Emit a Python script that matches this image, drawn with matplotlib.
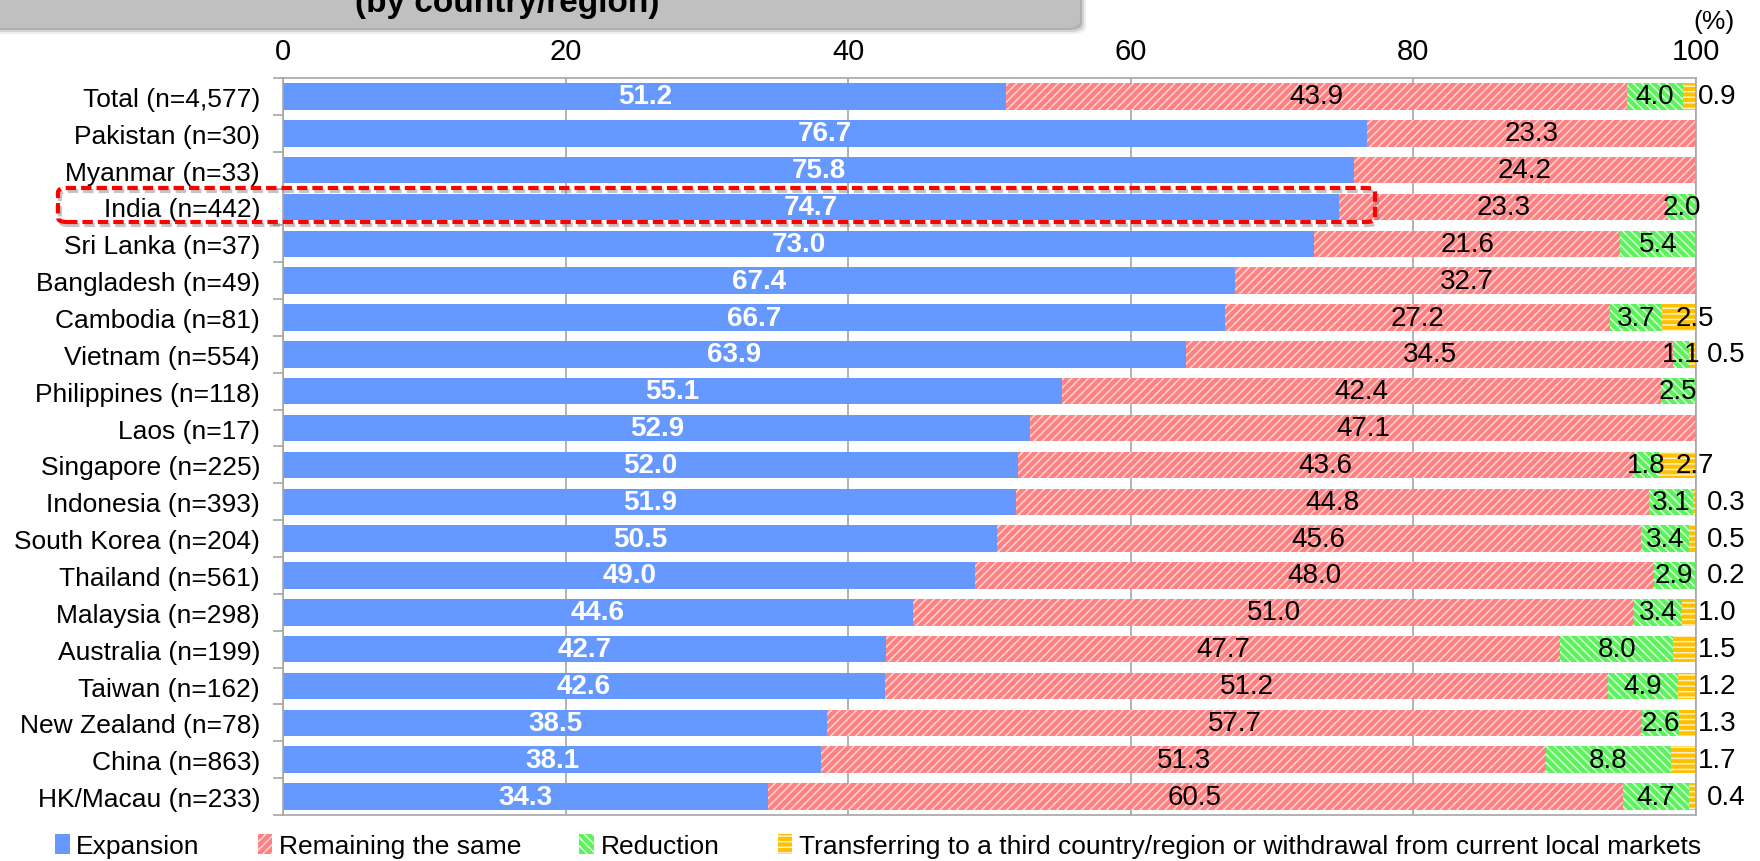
import numpy as np
import matplotlib
matplotlib.use('Agg')
import matplotlib.pyplot as plt
from matplotlib.patches import Patch, FancyBboxPatch

plt.rcParams['font.family'] = ['Liberation Sans', 'DejaVu Sans']
plt.rcParams['hatch.linewidth'] = 1.1

W, H = 1760, 862

CATEGORIES = [
    'Total (n=4,577)', 'Pakistan (n=30)', 'Myanmar (n=33)', 'India (n=442)',
    'Sri Lanka (n=37)', 'Bangladesh (n=49)', 'Cambodia (n=81)', 'Vietnam (n=554)',
    'Philippines (n=118)', 'Laos (n=17)', 'Singapore (n=225)', 'Indonesia (n=393)',
    'South Korea (n=204)', 'Thailand (n=561)', 'Malaysia (n=298)', 'Australia (n=199)',
    'Taiwan (n=162)', 'New Zealand (n=78)', 'China (n=863)', 'HK/Macau (n=233)',
]
EXPANSION = [51.2, 76.7, 75.8, 74.7, 73.0, 67.4, 66.7, 63.9, 55.1, 52.9,
             52.0, 51.9, 50.5, 49.0, 44.6, 42.7, 42.6, 38.5, 38.1, 34.3]
SAME = [43.9, 23.3, 24.2, 23.3, 21.6, 32.7, 27.2, 34.5, 42.4, 47.1,
        43.6, 44.8, 45.6, 48.0, 51.0, 47.7, 51.2, 57.7, 51.3, 60.5]
REDUCTION = [4.0, 0, 0, 2.0, 5.4, 0, 3.7, 1.1, 2.5, 0,
             1.8, 3.1, 3.4, 2.9, 3.4, 8.0, 4.9, 2.6, 8.8, 4.7]
TRANSFER = [0.9, 0, 0, 0, 0, 0, 2.5, 0.5, 0, 0,
            2.7, 0.3, 0.5, 0.2, 1.0, 1.5, 1.2, 1.3, 1.7, 0.4]

SERIES_NAMES = [
    'Expansion', 'Remaining the same', 'Reduction',
    'Transferring to a third country/region or withdrawal from current local markets',
]
# face colour, hatch colour, hatch pattern
STYLES = [
    ('#6699ff', '#6699ff', None),
    ('#ff8080', '#ffd6d6', '////'),
    ('#5cf25c', '#d8ffd8', '\\\\\\\\'),
    ('#ffc000', '#fff0c8', '---'),
]


def fx(px):
    return px / W


def fy(py):
    return 1 - py / H


fig = plt.figure(figsize=(W / 100, H / 100), dpi=100)
ax = fig.add_axes([fx(283), fy(816), fx(1696 - 283), (816 - 79) / H])

y = np.arange(len(CATEGORIES))
left = np.zeros(len(CATEGORIES))
series = [EXPANSION, SAME, REDUCTION, TRANSFER]
for vals, (face, hcol, hatch) in zip(series, STYLES):
    vals = np.array(vals)
    ax.barh(y, vals, left=left, height=0.72, color=face, edgecolor=hcol,
            linewidth=0, hatch=hatch, zorder=2)
    left = left + vals

# value labels
left = np.zeros(len(CATEGORIES))
for k, vals in enumerate(series):
    for i, v in enumerate(vals):
        if v <= 0:
            continue
        cx = left[i] + v / 2
        if k == 0:
            ax.text(cx, i, f'{v:.1f}', ha='center', va='center', color='white',
                    fontsize=20, fontweight='bold', zorder=4)
        elif k == 3:
            if v >= 2.5:
                ax.text(99.9, i, f'{v:.1f}', ha='center', va='center',
                        fontsize=20, zorder=4)
            else:
                xo = 100.8 if v < 0.9 else 100.15
                ax.text(xo, i, f'{v:.1f}', ha='left', va='center',
                        fontsize=20, zorder=4, clip_on=False)
        else:
            ax.text(cx, i, f'{v:.1f}', ha='center', va='center',
                    fontsize=20, zorder=4)
    left = left + np.array(vals)

ax.set_xlim(0, 100)
ax.set_ylim(len(CATEGORIES) - 0.5, -0.5)
ax.xaxis.tick_top()
ax.set_xticks(range(0, 101, 20))
ax.tick_params(axis='x', length=0, pad=9, labelsize=21)
ax.xaxis.grid(True, color='#a6a6a6', lw=1.2)
ax.set_axisbelow(True)

ax.set_yticks(y)
ax.set_yticklabels(CATEGORIES, fontsize=19)
ax.tick_params(axis='y', which='major', length=0, pad=16.5)
ax.set_yticks(np.arange(-0.5, len(CATEGORIES), 1), minor=True)
ax.tick_params(axis='y', which='minor', length=7, color='#a6a6a6', width=1.2)
for sp in ax.spines.values():
    sp.set_color('#a6a6a6')
    sp.set_linewidth(1.2)

fig.text(fx(1714), fy(22), '(%)', ha='center', va='center', fontsize=19)

# header box with soft shadow
for off, a in [(6, 0.12), (4, 0.2), (2, 0.35)]:
    fig.patches.append(FancyBboxPatch(
        (fx(-30 + off), fy(29 + off)), fx(1110), 0.2,
        boxstyle=f'round,pad=0,rounding_size={fx(14)}', transform=fig.transFigure,
        facecolor='#707070', edgecolor='none', alpha=a, zorder=6))
fig.patches.append(FancyBboxPatch(
    (fx(-30), fy(29)), fx(1110), 0.2,
    boxstyle=f'round,pad=0,rounding_size={fx(14)}', transform=fig.transFigure,
    facecolor='#c0c0c0', edgecolor='none', zorder=7))
fig.text(fx(507), fy(19), '(by country/region)', ha='center', va='bottom',
         fontsize=24, fontweight='bold', zorder=8)

# India highlight
for dx, dy, col, a in [(2, 3, '#808080', 0.45), (0, 0, '#ff0000', 1.0)]:
    fig.patches.append(FancyBboxPatch(
        (fx(58 + dx), fy(223 + dy)), fx(1375 - 58), (223 - 189) / H,
        boxstyle=f'round,pad=0,rounding_size={fx(9)}', transform=fig.transFigure,
        facecolor='none', edgecolor=col, alpha=a, lw=3,
        linestyle=(0, (2.5, 1.2)), zorder=9))

handles = [Patch(facecolor=f, edgecolor=h, linewidth=0, hatch=p)
           for f, h, p in STYLES]
fig.legend(handles, SERIES_NAMES, loc='center', bbox_to_anchor=(fx(878), fy(847)),
           ncol=4, frameon=False, fontsize=19, handlelength=0.55, handleheight=0.8,
           handletextpad=0.25, columnspacing=2.2, borderaxespad=0, borderpad=0)

fig.savefig('out.png', dpi=100)
